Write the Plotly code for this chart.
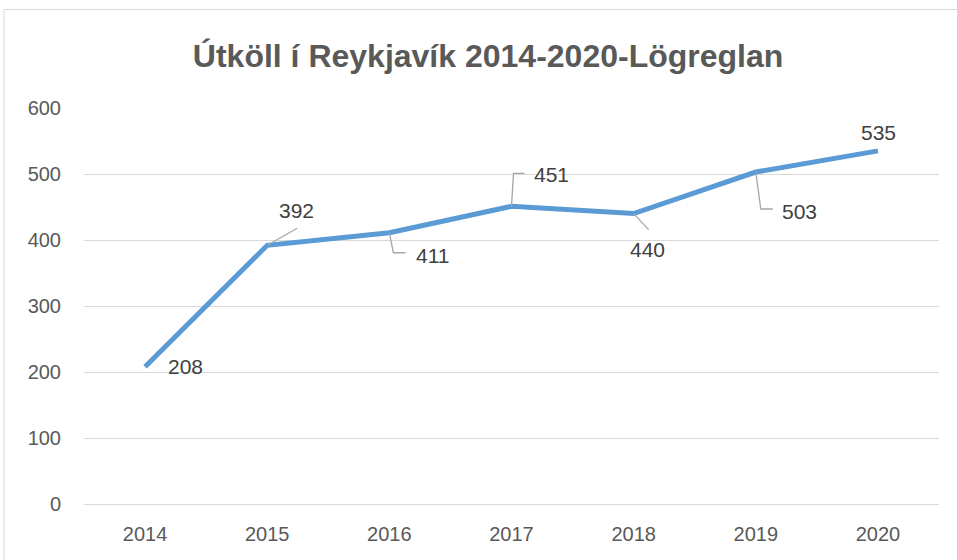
import plotly.graph_objects as go

# gögn
years = [2014, 2015, 2016, 2017, 2018, 2019, 2020]
calls = [208, 392, 411, 451, 440, 503, 535]

# staðsetning merkja (px frá punkti) og leiðarlínur
label_dx = [40, 29, 43, 40, 14, 44, 1]
label_dy = [0, -35, 23, -32, 36, 39, -18]
leaders = [None, [(0, 0), (30, -17)], [(0, 0), (4, 20), (16, 20)],
           [(0, 0), (2, -33), (13, -33)], [(0, 0), (15, 16)],
           [(0, 0), (5, 37), (17, 37)], None]

fig = go.Figure()
fig.add_trace(go.Scatter(x=years, y=calls, mode='lines',
                         line=dict(color='#5B9BD5', width=5),
                         hoverinfo='x+y', showlegend=False))

for x, y, dx, dy, ld in zip(years, calls, label_dx, label_dy, leaders):
    fig.add_annotation(x=x, y=y, xref='x', yref='y', text=str(y), showarrow=False,
                       xshift=dx, yshift=-dy,
                       font=dict(family='Liberation Sans', size=21, color='#404040'))
    if ld:
        path = 'M' + ' L'.join(f'{px},{-py}' for px, py in ld)
        fig.add_shape(type='path', path=path, xref='x', yref='y',
                      xsizemode='pixel', ysizemode='pixel', xanchor=x, yanchor=y,
                      line=dict(color='#a6a6a6', width=1.3), layer='above')

# rammi um myndina
fig.add_shape(type='rect', xref='paper', yref='paper',
              x0=-0.0936, x1=1.3, y0=-0.4, y1=1.2487,
              line=dict(color='#d9d9d9', width=1), layer='below')

fig.update_layout(
    title=dict(text='<b>Útköll í Reykjavík 2014-2020-Lögreglan</b>',
               x=0.51, xanchor='center', y=1 - 56 / 560, yanchor='middle', yref='container',
               font=dict(family='Liberation Sans', size=32, color='#595959')),
    width=957, height=560,
    margin=dict(l=84, r=18, t=108, b=56),
    paper_bgcolor='white', plot_bgcolor='white',
    font=dict(family='Liberation Sans', size=20, color='#595959'),
    xaxis=dict(range=[2013.5, 2020.5], dtick=1, showgrid=False, zeroline=False,
               showline=False, ticklabelstandoff=16, fixedrange=True),
    yaxis=dict(range=[0, 600], dtick=100, gridcolor='#d9d9d9', gridwidth=1,
               zeroline=True, zerolinecolor='#d9d9d9', zerolinewidth=1,
               showline=False, ticklabelstandoff=22, fixedrange=True),
)

fig.write_html('out.html', config={'displayModeBar': False},
               post_script="document.body.style.margin='0';")
